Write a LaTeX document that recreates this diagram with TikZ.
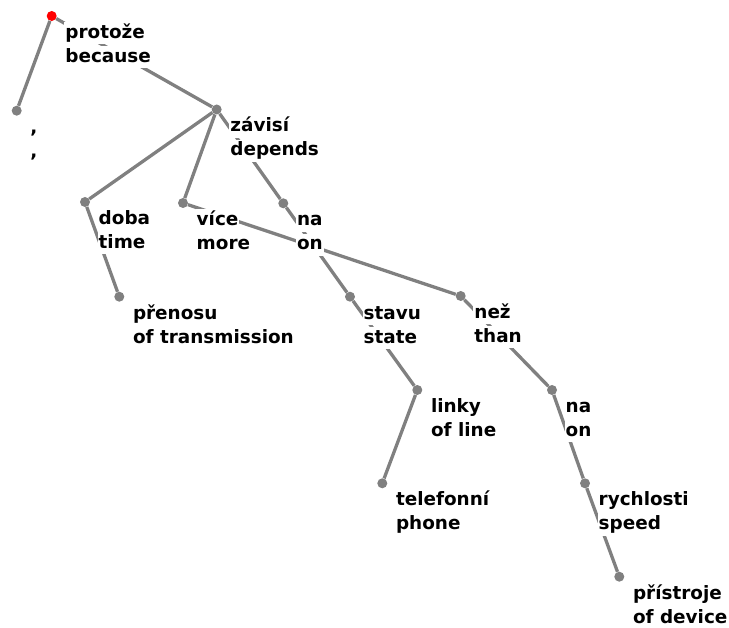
\documentclass[tikz,border=0pt]{standalone}
\usepackage{fontspec}
\setmainfont{DejaVu Sans}
\definecolor{edgegray}{RGB}{128,128,128}
\newcommand\twolines[4]{%
  \node[lbl,xshift=12.5pt,yshift=-22.5pt] (#2a) at (#1.center) {#3};
  \node[lbl,xshift=12.5pt,yshift=-46.5pt] (#2b) at (#1.center) {#4};}
\begin{document}
\begin{tikzpicture}[x=1pt,y=-1pt,
  dotnode/.style={circle,fill=edgegray,inner sep=0pt,minimum size=10pt},
  rootdot/.style={dotnode,fill=red},
  edge/.style={draw=edgegray,line width=3.3pt},
  lbl/.style={anchor=base west,fill=white,inner xsep=1pt,inner ysep=1pt,
    text height=15pt,text depth=5pt,font=\fontsize{18.4}{22}\selectfont\bfseries}]
\useasboundingbox (0,0) rectangle (729,628);
% dots
\node[rootdot] (r) at (51.7,16) {};
\node[dotnode] (c) at (16.7,110.7) {};
\node[dotnode] (z) at (216.7,109.5) {};
\node[dotnode] (d) at (85,202) {};
\node[dotnode] (v) at (183,203) {};
\node[dotnode] (n) at (283.3,203.3) {};
\node[dotnode] (p) at (119.3,296.7) {};
\node[dotnode] (s) at (350,296.7) {};
\node[dotnode] (ne) at (460.7,296) {};
\node[dotnode] (l) at (417.3,390) {};
\node[dotnode] (nb) at (552,390) {};
\node[dotnode] (t) at (382.3,483.3) {};
\node[dotnode] (ry) at (585,483.3) {};
\node[dotnode] (pr) at (619.3,576.7) {};
% edges
\draw[edge] (r) -- (c);
\draw[edge] (r) -- (z);
\draw[edge] (z) -- (d);
\draw[edge] (z) -- (v);
\draw[edge] (z) -- (n);
\draw[edge] (d) -- (p);
\draw[edge] (v) -- (ne);
\draw[edge] (n) -- (s);
\draw[edge] (s) -- (l);
\draw[edge] (l) -- (t);
\draw[edge] (ne) -- (nb);
\draw[edge] (nb) -- (ry);
\draw[edge] (ry) -- (pr);
% labels
\twolines{r}{Lr}{protože}{because}
\twolines{c}{Lc}{,}{,}
\twolines{z}{Lz}{závisí}{depends}
\twolines{d}{Ld}{doba}{time}
\twolines{v}{Lv}{více}{more}
\twolines{n}{Ln}{na}{on}
\twolines{p}{Lp}{přenosu}{of transmission}
\twolines{s}{Ls}{stavu}{state}
\twolines{ne}{Lne}{než}{than}
\twolines{l}{Ll}{linky}{of line}
\twolines{nb}{Lnb}{na}{on}
\twolines{t}{Lt}{telefonní}{phone}
\twolines{ry}{Lry}{rychlosti}{speed}
\twolines{pr}{Lpr}{přístroje}{of device}
\end{tikzpicture}
\end{document}
